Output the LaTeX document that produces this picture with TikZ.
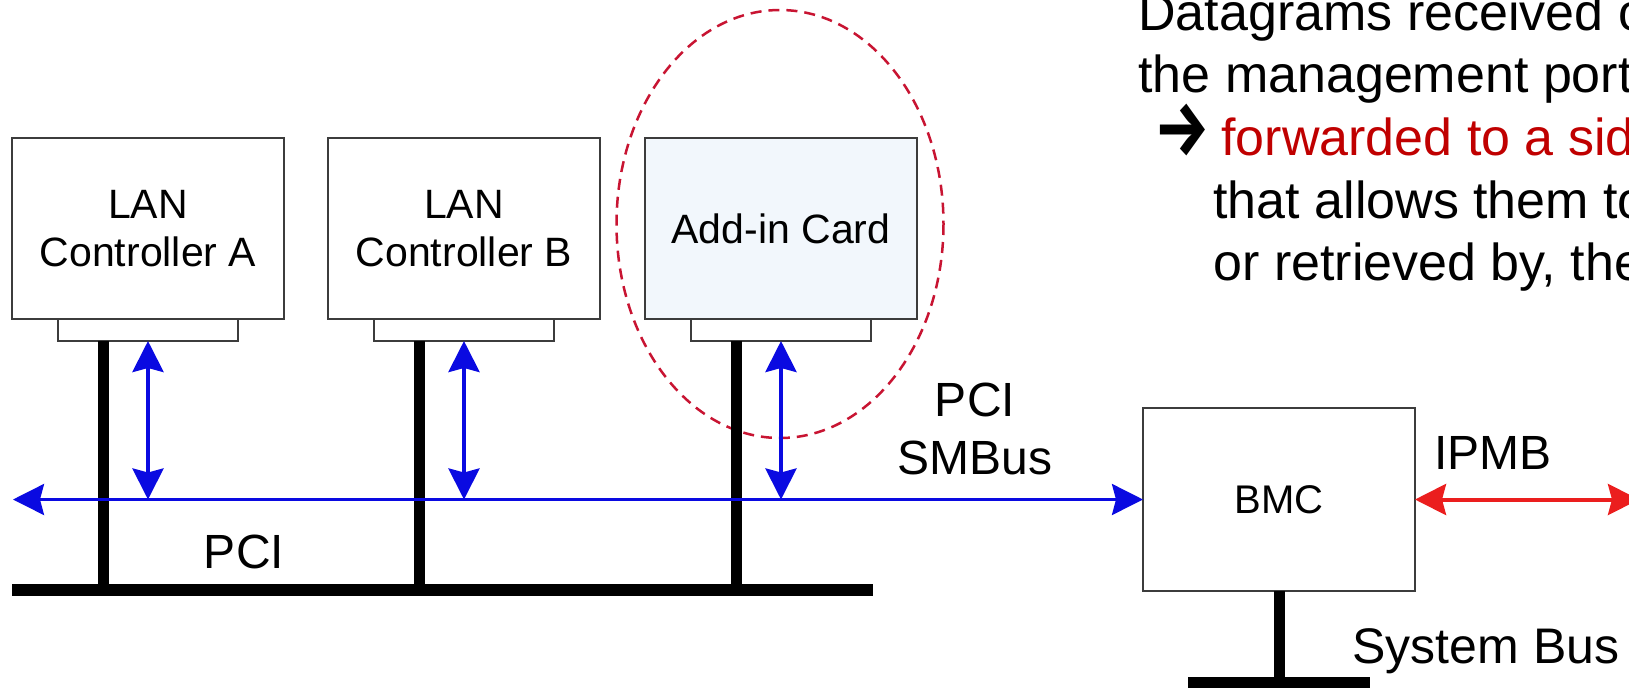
\documentclass[tikz,border=0pt]{standalone}
\usepackage{fontspec}
\setmainfont{Liberation Sans}
\newfontfamily\arrowfont{Fira Sans}
\usetikzlibrary{arrows.meta,positioning,calc}
\definecolor{boxgray}{RGB}{60,60,60}
\definecolor{pciblue}{RGB}{10,10,225}
\definecolor{ipmbred}{RGB}{235,30,30}
\definecolor{ringred}{RGB}{200,20,50}
\definecolor{notered}{RGB}{192,0,0}
\definecolor{cardfill}{RGB}{242,247,252}
\begin{document}
\begin{tikzpicture}[x=0.5pt, y=-0.5pt, >={Stealth[length=15.5pt,width=15.5pt,inset=2pt]},
		board/.style={draw=boxgray, line width=0.75pt, minimum width=136pt, minimum height=90.5pt, inner sep=0pt, outer sep=0pt, align=center, font=\fontsize{20.5}{24}\selectfont},
		conn/.style={draw=boxgray, fill=white, line width=0.75pt, minimum width=90pt, minimum height=11pt, inner sep=0pt, outer sep=0pt},
		stub/.style={line width=5.5pt},
		busbar/.style={line width=6pt},
		smbus/.style={<->, pciblue, line width=2pt},
		pciline/.style={<->, pciblue, line width=1.5pt},
		ipmb/.style={<->, ipmbred, line width=2pt},
		lbl/.style={inner sep=0pt, align=center, font=\fontsize{24}{29}\selectfont},
		note/.style={anchor=base west, inner sep=0pt, font=\fontsize{26}{31}\selectfont}]
	% 1. 画布
	\useasboundingbox (0,0) rectangle (1629,687);
	\clip (0,0) rectangle (1629,687);
	\fill[white] (0,0) rectangle (1629,687);
	
	% 2. 板卡与接口
	\node[board] (lana) at (148,228.5) {LAN\\Controller A};
	\node[board] (lanb) at (464,228.5) {LAN\\Controller B};
	\node[board, fill=cardfill] (card) at (781,228.5) {Add-in Card};
	\node[conn, below=0pt of lana] (cona) {};
	\node[conn, below=0pt of lanb] (conb) {};
	\node[conn, below=0pt of card] (conc) {};
	\node[board, minimum height=91.5pt, font=\fontsize{20}{24}\selectfont] (bmc) at (1279,499.5) {BMC};
	
	% 3. 虚线圈
	\draw[ringred, line width=1.25pt, dash pattern=on 5.5pt off 3.5pt] (780,224) ellipse [x radius=163.5, y radius=214];
	
	% 4. PCI 总线
	\coordinate (barleft) at (12,589.5);
	\coordinate (barright) at (873,589.5);
	\draw[busbar] (barleft) -- (barright);
	\coordinate (stuba) at ($(cona.south west)!.25!(cona.south east)$);
	\coordinate (stubb) at ($(conb.south west)!.25!(conb.south east)$);
	\coordinate (stubc) at ($(conc.south west)!.25!(conc.south east)$);
	\draw[stub] (stuba) -- (stuba |- barleft);
	\draw[stub] (stubb) -- (stubb |- barleft);
	\draw[stub] (stubc) -- (stubc |- barleft);
	
	% 5. SMBus
	\coordinate (pcileft) at (13,499.5);
	\draw[pciline] (pcileft) -- (bmc.west);
	\draw[smbus] (cona.south) -- (cona.south |- pcileft);
	\draw[smbus] (conb.south) -- (conb.south |- pcileft);
	\draw[smbus] (conc.south) -- (conc.south |- pcileft);
	
	% 6. BMC、系统总线与 IPMB
	\coordinate (sysleft) at (1188,683);
	\coordinate (sysright) at (1370,683);
	\draw[busbar] (sysleft) -- (sysright);
	\draw[stub] (bmc.south) -- (bmc.south |- sysleft);
	\coordinate (ipmbend) at (1639,499.5);
	\draw[ipmb] (bmc.east) -- (ipmbend);
	
	% 7. 标注
	\node[lbl] (pcilbl) at (244,552) {PCI};
	\node[lbl] (smbuslbl) at (975,428.5) {PCI\\SMBus};
	\node[lbl] (ipmblbl) at (1493,453) {IPMB};
	\node[lbl, anchor=base, font=\fontsize{25}{30}\selectfont] (syslbl) at (1486,663) {System Bus};
	
	% 8. 说明文字
	\node[note] (note1) at (1138,30) {Datagrams received o};
	\node[note] (note2) at (1138,92) {the management port};
	\node[note] (note3) at (1154,155) {\arrowfont\bfseries\fontsize{31}{31}\selectfont\scalebox{1}[1.25]{→}};
	\node[note, text=notered] (note3b) at (1221,155) {forwarded to a sid};
	\node[note] (note4) at (1213,218) {that allows them to};
	\node[note] (note5) at (1213,280) {or retrieved by, the};
\end{tikzpicture}
\end{document}
